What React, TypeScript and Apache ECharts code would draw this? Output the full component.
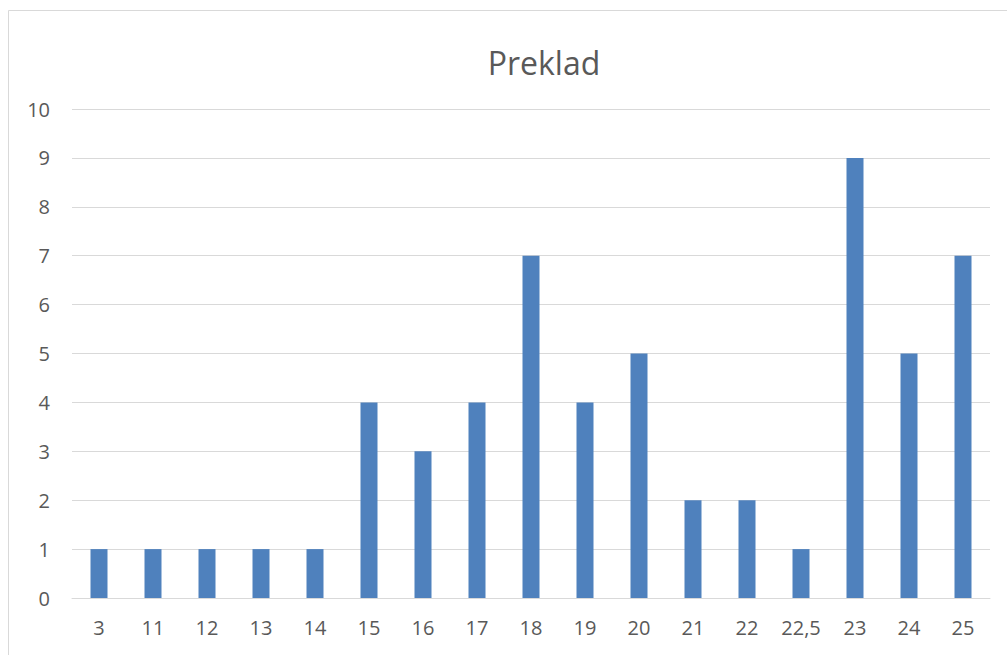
import React, { useEffect, useRef } from "react";
import * as echarts from "echarts";

const categories = ["3", "11", "12", "13", "14", "15", "16", "17", "18", "19", "20", "21", "22", "22,5", "23", "24", "25"];
const values = [1, 1, 1, 1, 1, 4, 3, 4, 7, 4, 5, 2, 2, 1, 9, 5, 7];
const titleText = "Preklad";

export default function App() {
  const ref = useRef<HTMLDivElement>(null);
  useEffect(() => {
    if (!ref.current) return;
    const chart = echarts.init(ref.current, null, { renderer: "svg" });
    chart.setOption({
      animation: false,
      backgroundColor: "#ffffff",
      title: {
        text: titleText,
        left: 539,
        top: 41,
        textAlign: "center",
        textStyle: { color: "#595959", fontSize: 32, fontWeight: "normal", fontFamily: "Open Sans" },
      },
      graphic: [
        {
          type: "rect",
          shape: { x: 8.5, y: 10.5, width: 1100, height: 700 },
          style: { fill: "none", stroke: "#d9d9d9", lineWidth: 1 },
          silent: true,
          z: -1,
        },
      ],
      grid: { left: 72, right: 17, top: 109, bottom: 57 },
      xAxis: {
        type: "category",
        data: categories,
        axisLine: { show: true, lineStyle: { color: "#d9d9d9", width: 1 } },
        axisTick: { show: false },
        axisLabel: { color: "#595959", fontSize: 20, margin: 19, fontFamily: "Open Sans" },
      },
      yAxis: {
        type: "value",
        min: 0,
        max: 10,
        interval: 1,
        axisLine: { show: false },
        axisTick: { show: false },
        splitLine: { lineStyle: { color: "#d9d9d9", width: 1 } },
        axisLabel: { color: "#595959", fontSize: 20, margin: 22, fontFamily: "Open Sans" },
      },
      series: [
        {
          type: "bar",
          data: values,
          barWidth: 17,
          itemStyle: { color: "#4f81bd" },
        },
      ],
    });
    return () => chart.dispose();
  }, []);
  return <div ref={ref} style={{ position: "fixed", left: 0, top: 0, width: 1007, height: 655 }} />;
}
